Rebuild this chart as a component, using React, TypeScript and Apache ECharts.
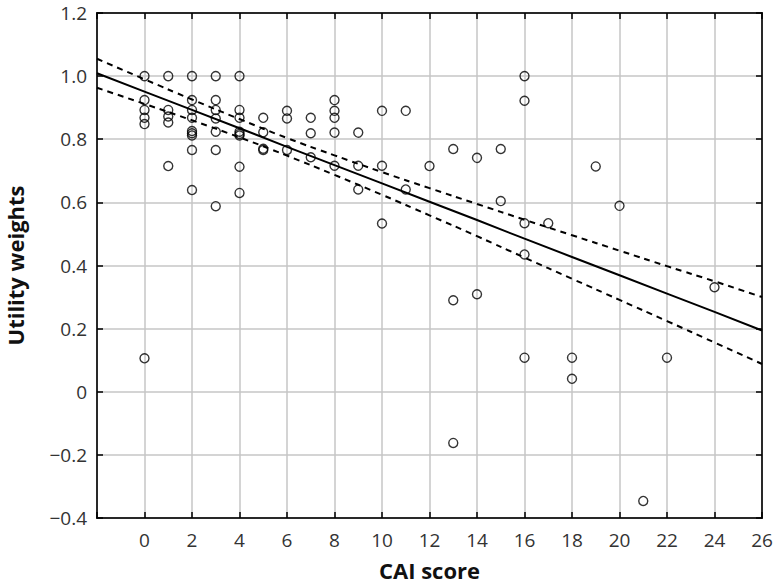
import React, { useEffect, useRef } from "react";
import * as echarts from "echarts";

// Scatter data: CAI score (x) and utility weight (y)
const scoreX = [
  0, 0, 0, 0, 0, 0,
  1, 1, 1, 1, 1,
  2, 2, 2, 2, 2, 2, 2, 2, 2,
  3, 3, 3, 3, 3, 3, 3,
  4, 4, 4, 4, 4, 4, 4, 4,
  5, 5, 5, 5,
  6, 6, 6,
  7, 7, 7,
  8, 8, 8, 8, 8,
  9, 9, 9,
  10, 10, 10,
  11, 11,
  12,
  13, 13, 13,
  14, 14,
  15, 15,
  16, 16, 16, 16, 16,
  17,
  18, 18,
  19,
  20,
  21,
  22,
  24,
];
const utilityY = [
  1.0, 0.924, 0.893, 0.868, 0.848, 0.106,
  1.0, 0.893, 0.872, 0.853, 0.715,
  1.0, 0.924, 0.893, 0.868, 0.826, 0.819, 0.812, 0.766, 0.639,
  1.0, 0.924, 0.893, 0.866, 0.824, 0.766, 0.588,
  1.0, 0.893, 0.868, 0.824, 0.817, 0.812, 0.713, 0.63,
  0.868, 0.822, 0.77, 0.766,
  0.89, 0.866, 0.766,
  0.868, 0.819, 0.743,
  0.924, 0.89, 0.868, 0.821, 0.716,
  0.821, 0.716, 0.641,
  0.89, 0.716, 0.533,
  0.89, 0.641,
  0.715,
  0.769, 0.29, -0.162,
  0.741, 0.309,
  0.769, 0.604,
  1.0, 0.922, 0.534, 0.435, 0.108,
  0.534,
  0.108, 0.041,
  0.714,
  0.589,
  -0.346,
  0.108,
  0.331,
];

// Regression line and confidence band
const bandX = [-2, 0, 2, 4, 6, 8, 10, 12, 14, 16, 18, 20, 22, 24, 26];
const fitY = [1.009, 0.951, 0.893, 0.835, 0.776, 0.718, 0.66, 0.602, 0.544, 0.485, 0.427, 0.369, 0.311, 0.253, 0.194];
const upperY = [1.055, 0.99, 0.926, 0.864, 0.804, 0.749, 0.696, 0.645, 0.595, 0.545, 0.496, 0.447, 0.398, 0.35, 0.3];
const lowerY = [0.963, 0.912, 0.86, 0.806, 0.748, 0.687, 0.624, 0.559, 0.493, 0.425, 0.358, 0.291, 0.224, 0.156, 0.088];

const FONT = "'Open Sans', 'DejaVu Sans', sans-serif";

export default function App() {
  const ref = useRef<HTMLDivElement>(null);
  useEffect(() => {
    if (!ref.current) return;
    const chart = echarts.init(ref.current, null, { renderer: "svg" });
    const pts = scoreX.map((x, i) => [x, utilityY[i]]);
    const pair = (ys: number[]) => bandX.map((x, i) => [x, ys[i]]);
    const fmtY = (v: number) => {
      if (Math.abs(v) < 1e-9) return "0";
      const s = v.toFixed(1);
      return s.replace("-", "\u2212");
    };
    const gridLine = { show: true, lineStyle: { color: "#c6c6c6", width: 1.5 } };
    const tick = { show: true, inside: true, length: 6, lineStyle: { color: "#000", width: 1.5 } };
    const axisLine = { show: true, onZero: false, lineStyle: { color: "#000", width: 1.5 } };
    chart.setOption({
      animation: false,
      grid: {
        left: 97,
        right: 12,
        top: 13,
        bottom: 67,
        containLabel: false,
        outerBoundsMode: "none",
        show: true,
        borderColor: "#000",
        borderWidth: 1.5,
        backgroundColor: "transparent",
      },
      xAxis: [
        {
          type: "value",
          min: -2,
          max: 26,
          interval: 2,
          name: "CAI score",
          nameLocation: "middle",
          nameGap: 40,
          nameTextStyle: { fontFamily: FONT, fontSize: 22, lineHeight: 24, fontWeight: "bold", color: "#111" },
          axisLine,
          axisTick: tick,
          axisLabel: {
            fontFamily: FONT,
            fontSize: 19,
            color: "#333",
            margin: 12,
            formatter: (v: number) => (v < 0 ? "" : String(Math.round(v))),
          },
          splitLine: gridLine,
        },
        {
          type: "value",
          position: "top",
          min: -2,
          max: 26,
          interval: 2,
          axisLine,
          axisTick: tick,
          axisLabel: { show: false },
          splitLine: { show: false },
        },
      ],
      yAxis: [
        {
          type: "value",
          min: -0.4,
          max: 1.2,
          interval: 0.2,
          name: "Utility weights",
          nameLocation: "middle",
          nameGap: 70,
          nameTextStyle: { fontFamily: FONT, fontSize: 22, lineHeight: 24, fontWeight: "bold", color: "#111" },
          axisLine,
          axisTick: tick,
          axisLabel: {
            fontFamily: FONT,
            fontSize: 19,
            color: "#333",
            margin: 10,
            formatter: fmtY,
          },
          splitLine: gridLine,
        },
        {
          type: "value",
          position: "right",
          min: -0.4,
          max: 1.2,
          interval: 0.2,
          axisLine,
          axisTick: tick,
          axisLabel: { show: false },
          splitLine: { show: false },
        },
      ],
      series: [
        {
          type: "line",
          data: pair(upperY),
          smooth: true,
          symbol: "none",
          lineStyle: { color: "#000", width: 2, type: [6, 5] },
          z: 2,
        },
        {
          type: "line",
          data: pair(lowerY),
          smooth: true,
          symbol: "none",
          lineStyle: { color: "#000", width: 2, type: [6, 5] },
          z: 2,
        },
        {
          type: "line",
          data: pair(fitY),
          symbol: "none",
          lineStyle: { color: "#000", width: 2 },
          z: 2,
        },
        {
          type: "scatter",
          data: pts,
          symbol: "circle",
          symbolSize: 9,
          itemStyle: { color: "rgba(0,0,0,0)", borderColor: "#000", borderWidth: 1.4 },
          z: 3,
        },
      ],
    });
    return () => chart.dispose();
  }, []);
  return <div ref={ref} style={{ width: 774, height: 585, position: "absolute", left: 0, top: 0 }} />;
}
